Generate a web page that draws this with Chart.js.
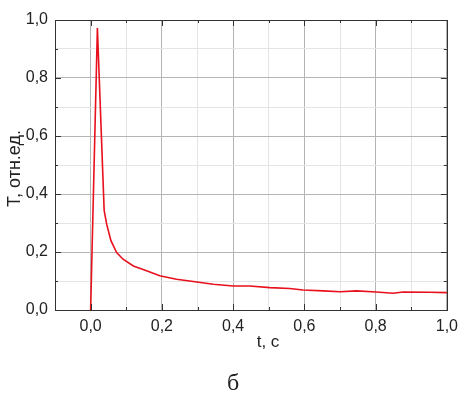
<!DOCTYPE html>
<html>
<head>
<meta charset="utf-8">
<script src="https://cdn.jsdelivr.net/npm/chart.js@4.4.0/dist/chart.umd.min.js"></script>
<style>
  html, body { margin: 0; padding: 0; background: #fff; }
</style>
</head>
<body>
<canvas id="chart" width="465" height="393"></canvas>
<script>
// time, s
const tValues = [0, 0.019, 0.038, 0.045, 0.057, 0.073, 0.091, 0.12, 0.157, 0.194, 0.241,
  0.288, 0.344, 0.4, 0.447, 0.503, 0.559, 0.596, 0.653, 0.7, 0.746, 0.802, 0.849, 0.877, 0.952, 1.0];
// T, relative units
const TValues = [0, 0.972, 0.343, 0.296, 0.239, 0.198, 0.175, 0.152, 0.135, 0.118, 0.106,
  0.098, 0.089, 0.083, 0.083, 0.077, 0.074, 0.069, 0.066, 0.063, 0.066, 0.062, 0.058, 0.062, 0.061, 0.06];

const xRange = [-0.1, 1.0];
const yRange = [0, 1.0];
const xTitle = 't, c';
const yTitle = 'Т, отн.ед.';
const caption = 'б';

const fontFamily = "'Liberation Sans', Arial, sans-serif";

const isMajor = v => Math.round(v * 10) % 2 === 0;
const fmt = v => v.toFixed(1).replace('.', ',');

// frame, inward ticks on all four sides, axis titles and caption
const framePlugin = {
  id: 'frame',
  afterDraw(chart) {
    const { ctx, chartArea: a, scales } = chart;
    ctx.save();
    ctx.strokeStyle = '#333';
    ctx.lineWidth = 1;
    ctx.beginPath();
    scales.x.ticks.forEach(t => {
      const px = Math.round(scales.x.getPixelForValue(t.value)) + 0.5;
      const len = isMajor(t.value) ? 6 : 3;
      ctx.moveTo(px, a.bottom); ctx.lineTo(px, a.bottom - len);
      ctx.moveTo(px, a.top); ctx.lineTo(px, a.top + len);
    });
    scales.y.ticks.forEach(t => {
      const py = Math.round(scales.y.getPixelForValue(t.value)) + 0.5;
      const len = isMajor(t.value) ? 6 : 3;
      ctx.moveTo(a.left, py); ctx.lineTo(a.left + len, py);
      ctx.moveTo(a.right, py); ctx.lineTo(a.right - len, py);
    });
    ctx.stroke();
    ctx.strokeRect(Math.round(a.left) + 0.5, Math.round(a.top) + 0.5,
      Math.round(a.right - a.left), Math.round(a.bottom - a.top));

    ctx.fillStyle = '#222';
    ctx.textAlign = 'center';
    ctx.textBaseline = 'alphabetic';
    ctx.font = '17px ' + fontFamily;
    ctx.fillText(xTitle, 268, 347);

    ctx.save();
    ctx.translate(19.5, 168.5);
    ctx.rotate(-Math.PI / 2);
    ctx.font = '18px ' + fontFamily;
    ctx.fillText(yTitle, 0, 0);
    ctx.restore();

    ctx.font = "24px 'Liberation Serif', 'Times New Roman', serif";
    ctx.fillText(caption, 233, 390);
    ctx.restore();
  }
};

new Chart(document.getElementById('chart'), {
  type: 'line',
  data: {
    datasets: [{
      data: tValues.map((t, i) => ({ x: t, y: TValues[i] })),
      borderColor: '#e8101c',
      borderWidth: 1.6,
      pointRadius: 0,
      tension: 0,
      fill: false
    }]
  },
  options: {
    responsive: false,
    animation: false,
    layout: { padding: { left: 0, right: 18, top: 20, bottom: 0 } },
    plugins: { legend: { display: false }, tooltip: { enabled: false } },
    scales: {
      x: {
        type: 'linear',
        min: xRange[0], max: xRange[1],
        afterFit(s) { s.height = 83; },
        border: { display: false },
        grid: {
          drawTicks: false,
          color: c => isMajor(c.tick.value) ? '#b4b4b4' : '#e4e4e4',
          lineWidth: 1
        },
        ticks: {
          stepSize: 0.1,
          autoSkip: false,
          maxRotation: 0,
          padding: 7,
          color: '#222',
          font: { family: fontFamily, size: 16 },
          callback: v => (isMajor(v) && v > -0.05) ? fmt(v) : ''
        }
      },
      y: {
        min: yRange[0], max: yRange[1],
        afterFit(s) { s.width = 55; },
        border: { display: false },
        grid: {
          drawTicks: false,
          color: c => isMajor(c.tick.value) ? '#b4b4b4' : '#e4e4e4',
          lineWidth: 1
        },
        ticks: {
          stepSize: 0.1,
          autoSkip: false,
          padding: 7,
          color: '#222',
          font: { family: fontFamily, size: 16 },
          callback: v => isMajor(v) ? fmt(v) : ''
        }
      }
    }
  },
  plugins: [framePlugin]
});
</script>
</body>
</html>
